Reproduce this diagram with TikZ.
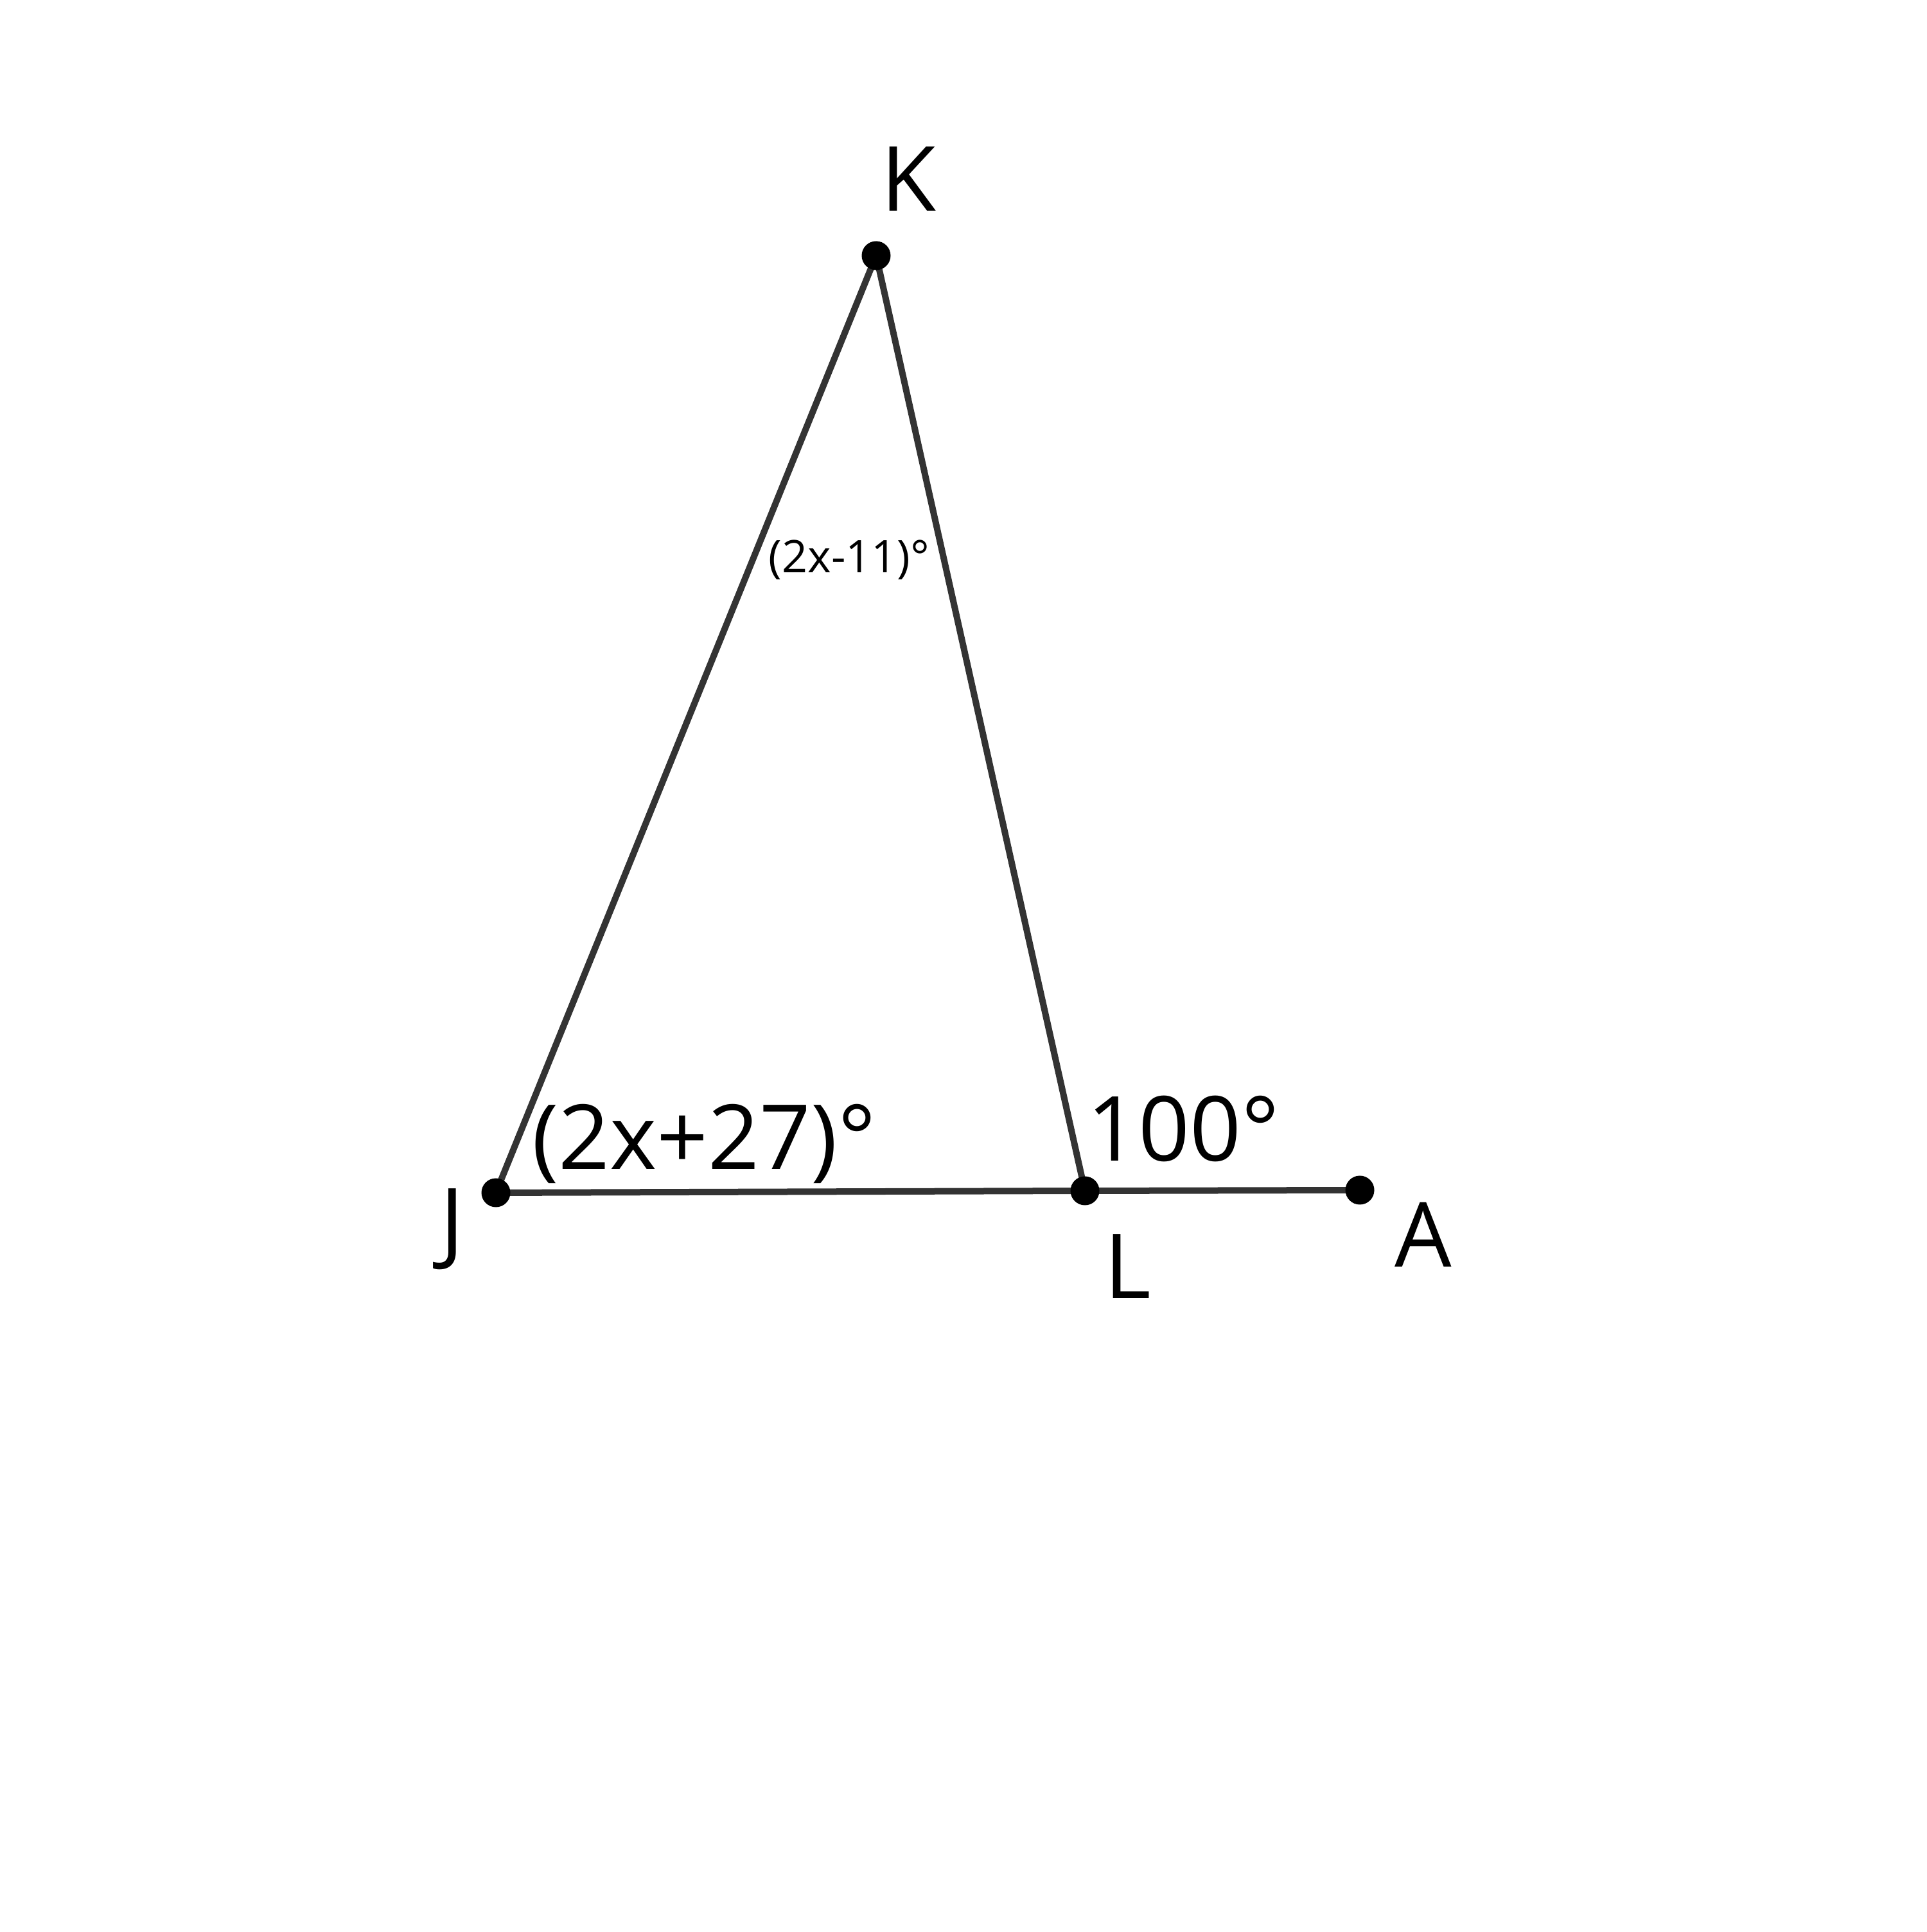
\documentclass[tikz,border=0pt]{standalone}
\usepackage{fontspec}
\setmainfont{Open Sans}
\begin{document}
\begin{tikzpicture}[x=1cm,y=1cm,
  seg/.style={draw=black!80, line width=0.1cm},
  pt/.style={circle, fill=black, inner sep=0pt, minimum size=0.45cm},
  biglbl/.style={inner sep=0pt, font=\fontsize{39.8}{44}\selectfont},
  smalllbl/.style={inner sep=0pt, font=\fontsize{19.9}{22}\selectfont}]
\useasboundingbox (0,0) rectangle (30,30.08);
\coordinate (K) at (13.64,26.10);
\coordinate (J) at (7.72,11.51);
\coordinate (L) at (16.89,11.54);
\coordinate (A) at (21.17,11.55);
\draw[seg] (J) -- (K) -- (L);
\draw[seg] (J) -- (L) -- (A);
\node[pt] (dK) at (K) {};
\node[pt] (dJ) at (J) {};
\node[pt] (dL) at (L) {};
\node[pt] (dA) at (A) {};
\node[biglbl, anchor=base] (lK) at (14.14,26.79) {K};
\node[biglbl, anchor=north] (lJ) at (7.04,11.58) {J};
\node[biglbl, anchor=base] (lL) at (17.56,9.86) {L};
\node[biglbl, anchor=base] (lA) at (22.16,10.35) {A};
\node[biglbl, anchor=base] (aJ) at (10.96,11.87) {(2x+27)°};
\node[biglbl, anchor=base] (aL) at (18.42,12.00) {100°};
\node[smalllbl, anchor=base] (aK) at (13.22,21.16) {(2x-11)°};
\end{tikzpicture}
\end{document}
